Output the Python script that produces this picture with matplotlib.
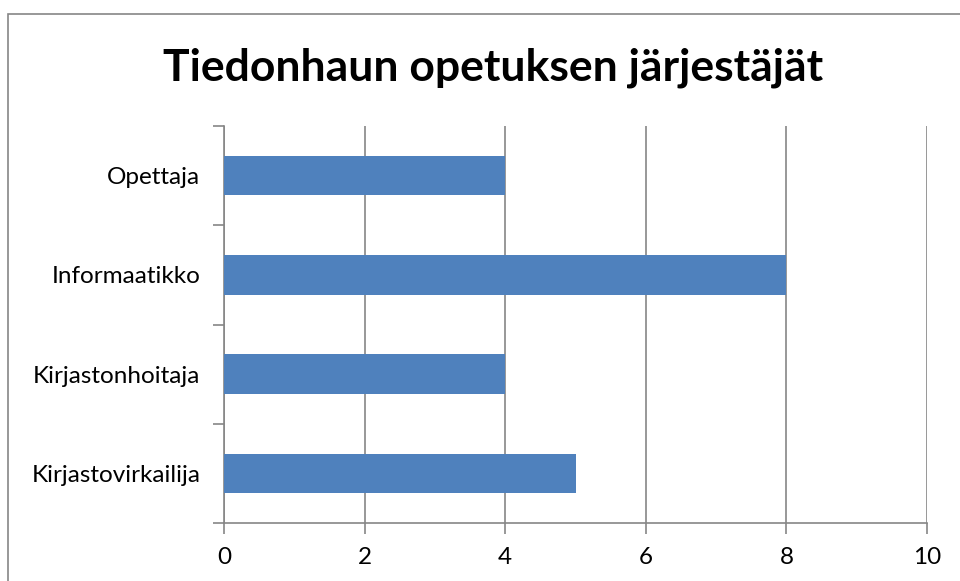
import matplotlib.pyplot as plt
from matplotlib.patches import Rectangle
import numpy as np

categories = ['Kirjastovirkailija', 'Kirjastonhoitaja', 'Informaatikko', 'Opettaja']
values = [5, 4, 8, 4]
xticks = [0, 2, 4, 6, 8, 10]

plt.rcParams['font.family'] = ['Lato', 'DejaVu Sans']

fig = plt.figure(figsize=(9.6, 5.81), dpi=100)
ax = fig.add_axes([224/960, 1 - 523/581, (927 - 224)/960, (523 - 126)/581])

grey = '#868686'
y = np.arange(len(categories))
ax.barh(y, values, height=0.4, color='#4f81bd', zorder=3)

ax.set_xlim(0, 10)
ax.set_ylim(-0.5, len(categories) - 0.5)
ax.set_xticks(xticks)
ax.set_xticklabels([str(t) for t in xticks], fontsize=17.5)
ax.set_yticks(y)
ax.set_yticklabels(categories, fontsize=17.5)
ax.set_yticks(np.arange(-0.5, len(categories)), minor=True)
ax.tick_params(axis='y', which='major', length=0, pad=17)
ax.tick_params(axis='y', which='minor', length=8, color=grey, width=1.2)
ax.tick_params(axis='x', length=8, color=grey, width=1.2, pad=9)
ax.grid(axis='x', color=grey, linewidth=1.2, zorder=0)

for side in ['top', 'right']:
    ax.spines[side].set_visible(False)
for side in ['left', 'bottom']:
    ax.spines[side].set_color(grey)
    ax.spines[side].set_linewidth(1.2)

fig.text(493/960, 1 - 68/581, 'Tiedonhaun opetuksen järjestäjät', ha='center', va='center',
         fontsize=32, fontweight='bold')

fig.patches.append(Rectangle((8/960, -0.1), 1.2, 1 - 14/581 + 0.1, transform=fig.transFigure,
                             fill=False, edgecolor=grey, linewidth=1.2))

fig.savefig('out.png', dpi=100)
